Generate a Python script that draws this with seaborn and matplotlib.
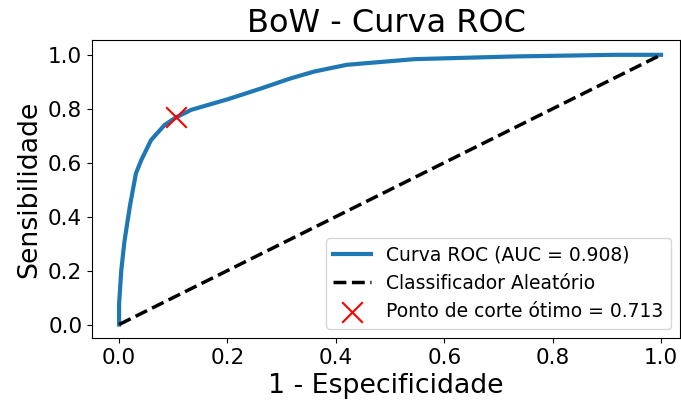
import matplotlib
matplotlib.use("Agg")
import matplotlib.pyplot as plt
import seaborn as sns
import pandas as pd

# ROC curve points (false positive rate, true positive rate)
fpr = [0.0, 0.0, 0.004, 0.010, 0.020, 0.031, 0.041, 0.059, 0.084, 0.105,
       0.133, 0.200, 0.260, 0.317, 0.360, 0.420, 0.545, 0.729, 0.914, 1.0]
tpr = [0.0, 0.077, 0.20, 0.31, 0.44, 0.56, 0.61, 0.684, 0.74, 0.768,
       0.796, 0.835, 0.874, 0.913, 0.938, 0.963, 0.984, 0.994, 1.0, 1.0]
auc = 0.908

# Random classifier reference line
diag = [0.0, 1.0]

# Optimal cut-off point
opt_fpr = [0.105]
opt_tpr = [0.768]
opt_threshold = 0.713

roc = pd.DataFrame({"fpr": fpr, "tpr": tpr})
ref = pd.DataFrame({"x": diag, "y": diag})
opt = pd.DataFrame({"x": opt_fpr, "y": opt_tpr})

plt.rcParams["font.family"] = ["DejaVu Sans"]

fig = plt.figure(figsize=(6.81, 4.07), dpi=100)
ax = fig.add_axes([92 / 681, 1 - 338 / 407, (680 - 92) / 681, (338 - 40) / 407])

sns.lineplot(data=roc, x="fpr", y="tpr", sort=False, estimator=None, ax=ax,
             color="#1f77b4", linewidth=3, label=f"Curva ROC (AUC = {auc:.3f})")
sns.lineplot(data=ref, x="x", y="y", estimator=None, ax=ax, color="black",
             linewidth=2.5, linestyle="--", label="Classificador Aleatório")
sns.scatterplot(data=opt, x="x", y="y", ax=ax, color="red", marker="x",
                s=220, linewidth=1.5, zorder=5,
                label=f"Ponto de corte ótimo = {opt_threshold:.3f}")

ax.set_title("BoW - Curva ROC", fontsize=23)
ax.set_xlabel("1 - Especificidade", fontsize=19.3)
ax.set_ylabel("Sensibilidade", fontsize=19.3)
ax.tick_params(labelsize=15.5)
ax.set_xticks([0.0, 0.2, 0.4, 0.6, 0.8, 1.0])
ax.set_yticks([0.0, 0.2, 0.4, 0.6, 0.8, 1.0])
ax.set_xlim(-0.05, 1.035)
ax.set_ylim(-0.05, 1.055)
ax.legend(loc="lower right", fontsize=13.5)

fig.savefig("out.png", dpi=100)
